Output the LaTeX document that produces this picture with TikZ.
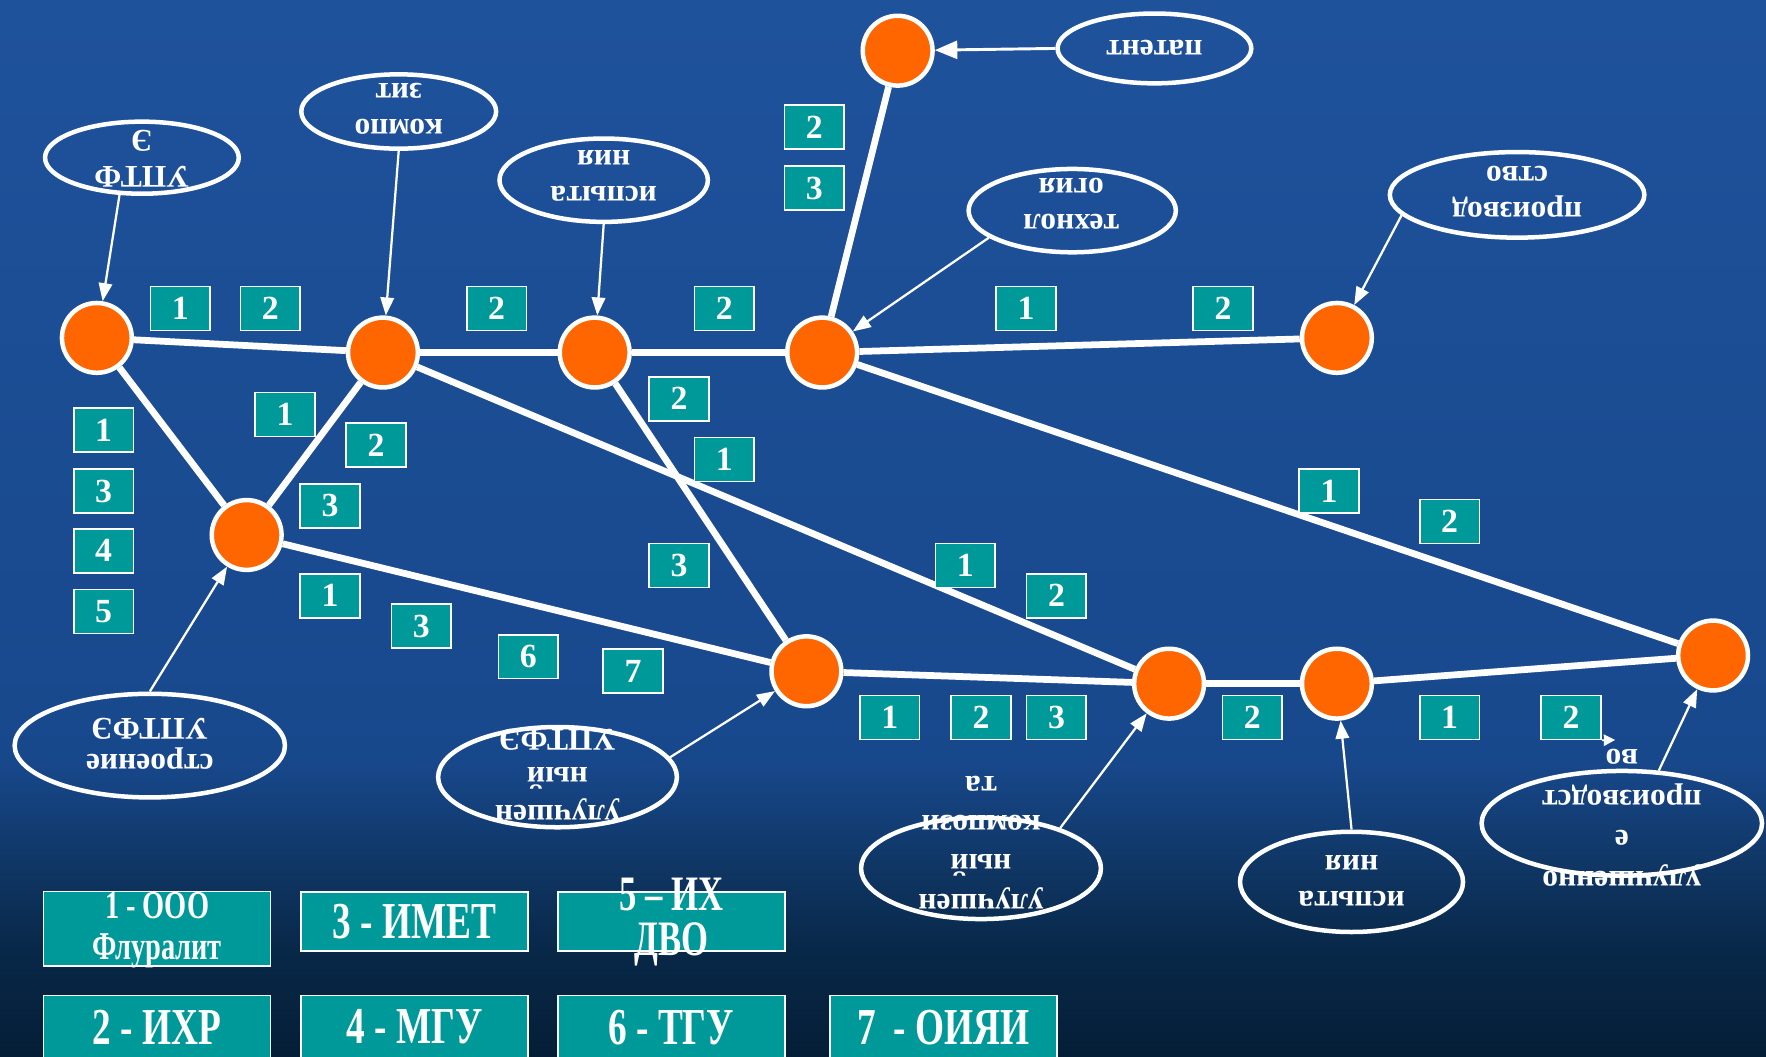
\documentclass[tikz,border=0pt]{standalone}
\usepackage{fontspec}
\setmainfont{Liberation Serif}
\newfontfamily\condA[FakeStretch=0.72]{Liberation Serif Bold}
\newfontfamily\condB[FakeStretch=0.70]{Liberation Serif Bold}
\usetikzlibrary{shapes.geometric,arrows.meta}
\definecolor{orng}{RGB}{255,102,0}
\definecolor{tealbox}{RGB}{0,153,153}
\definecolor{bgtop}{RGB}{30,82,155}
\definecolor{bgmain}{RGB}{24,72,140}
\definecolor{bgmid}{RGB}{15,54,100}
\definecolor{bgdark}{RGB}{8,40,72}
\definecolor{bgbot}{RGB}{5,30,55}
\pgfdeclareverticalshading{bgshade}{100bp}{color(0bp)=(bgbot); color(25bp)=(bgbot); color(30bp)=(bgdark); color(34bp)=(bgmid); color(39bp)=(bgmain); color(75bp)=(bgtop); color(100bp)=(bgtop)}
\begin{document}
\begin{tikzpicture}[x=0.5pt,y=-0.5pt,
  dot/.style={circle,fill=orng,draw=white,line width=2pt,minimum size=31pt,inner sep=0pt},
  edge/.style={white,line width=3pt},
  ell/.style={ellipse,draw=white,line width=2pt,inner sep=0pt},
  etext/.style={rotate=180,align=center,text=white,inner sep=0pt,font=\fontsize{14}{16}\selectfont\bfseries},
  numbox/.style={rectangle,fill=tealbox,draw=white,line width=0.75pt,minimum width=26.5pt,minimum height=19.5pt,inner sep=0pt,text=white,font=\fontsize{15}{18}\selectfont\bfseries},
  arr/.style={white,line width=1pt,-{Triangle[length=8pt,width=6pt]}},
  legbox/.style={rectangle,fill=tealbox,draw=white,line width=0.75pt,minimum width=100.75pt,minimum height=26.25pt,inner sep=0pt},
  legtext/.style={text=white,align=center,inner sep=0pt,font=\condA\fontsize{23}{26}\selectfont}
]
\clip (0,0) rectangle (1568,938);
\useasboundingbox (0,0) rectangle (1568,938);
\shade[shading=bgshade] (0,0) rectangle (1568,938);

% circles
\node[dot] (A) at (86,300) {};
\node[dot] (B) at (340,313) {};
\node[dot] (C) at (528,313) {};
\node[dot] (D) at (730,313) {};
\node[dot] (E) at (1187,300) {};
\node[dot] (F) at (797,45) {};
\node[dot] (G) at (219,475) {};
\node[dot] (H) at (716,596) {};
\node[dot] (I) at (1038,607) {};
\node[dot] (J) at (1187,607) {};
\node[dot] (K) at (1521,582) {};

% thick edges
\draw[edge] (A) -- (B);
\draw[edge] (B) -- (C);
\draw[edge] (C) -- (D);
\draw[edge] (D) -- (E);
\draw[edge] (A) -- (G);
\draw[edge] (G) -- (B);
\draw[edge] (G) -- (H);
\draw[edge] (B) -- (I);
\draw[edge] (C) -- (H);
\draw[edge] (D) -- (K);
\draw[edge] (H) -- (I);
\draw[edge] (I) -- (J);
\draw[edge] (J) -- (K);
\draw[edge] (D) -- (F);

% ellipses
\node[ell,minimum width=86pt,minimum height=32pt] (e1) at (126,140) {};
\node[ell,minimum width=86.5pt,minimum height=33pt] (e2) at (354,99) {};
\node[ell,minimum width=92.5pt,minimum height=37pt] (e3) at (536,160) {};
\node[ell,minimum width=92pt,minimum height=37pt] (e4) at (952,187) {};
\node[ell,minimum width=86pt,minimum height=31pt] (e5) at (1025,43) {};
\node[ell,minimum width=113pt,minimum height=38pt] (e6) at (1347,173) {};
\node[ell,minimum width=120pt,minimum height=46pt] (e7) at (133,662) {};
\node[ell,minimum width=106pt,minimum height=44.5pt] (e8) at (495,690) {};
\node[ell,minimum width=106.5pt,minimum height=45pt] (e9) at (871,771) {};
\node[ell,minimum width=99pt,minimum height=44.5pt] (e10) at (1200,783) {};
\node[ell,minimum width=124.5pt,minimum height=46.5pt] (e11) at (1440,731) {};

% ellipse texts (printed upside down)
\node[etext] (t1) at (126,141) {УПТФ\\Э};
\node[etext] (t2) at (354,97) {компо\\зит};
\node[etext] (t3) at (536,156) {испыта\\ния};
\node[etext] (t4) at (951,181) {технол\\огия};
\node[etext] (t5) at (1025,42) {патент};
\node[etext] (t6) at (1347,170) {производ\\ство};
\node[etext] (t7) at (133,660) {строение\\УПТФЭ};
\node[etext,font=\fontsize{14}{17}\selectfont\bfseries] (t8) at (495,688) {улучшен\\ный\\УПТФЭ};
\node[etext,font=\fontsize{14}{17.5}\selectfont\bfseries] (t9) at (871,748) {улучшен\\ный\\компози\\та};
\node[etext] (t10) at (1200,782) {испыта\\ния};
\node[etext,font=\fontsize{14}{18}\selectfont\bfseries] (t11) at (1440,726) {улучшенно\\е\\производст\\во};

% thin arrows
\draw[arr] (e1.239) -- (A);
\draw[arr] (e2.south) -- (B);
\draw[arr] (e3.south) -- (C);
\draw[arr] (e4.198) -- (D);
\draw[arr,line width=1.3pt,-{Triangle[length=10pt,width=8pt]}] (e5.west) -- (F);
\draw[arr] (e6.190) -- (E);
\draw[arr] (e7.north) -- (G);
\draw[arr] (e8.10) -- (H);
\draw[arr] (e9.27) -- (I);
\draw[arr] (e10.north) -- (J);
\draw[arr] (e11.55) -- (K);

% number boxes
\node[numbox] (n1) at (160,274) {1};
\node[numbox] (n2) at (240,274) {2};
\node[numbox] (n3) at (441,274) {2};
\node[numbox] (n4) at (643,274) {2};
\node[numbox] (n5) at (723,113) {2};
\node[numbox] (n6) at (723,167) {3};
\node[numbox] (n7) at (911,274) {1};
\node[numbox] (n8) at (1086,274) {2};
\node[numbox] (n9) at (92,382) {1};
\node[numbox] (n10) at (92,436) {3};
\node[numbox] (n11) at (92,489) {4};
\node[numbox] (n12) at (92,543) {5};
\node[numbox] (n13) at (253,368) {1};
\node[numbox] (n14) at (334,395) {2};
\node[numbox] (n15) at (293,449) {3};
\node[numbox] (n16) at (603,354) {2};
\node[numbox] (n17) at (643,408) {1};
\node[numbox] (n18) at (603,502) {3};
\node[numbox] (n19) at (1180,436) {1};
\node[numbox] (n20) at (1287,463) {2};
\node[numbox] (n21) at (857,502) {1};
\node[numbox] (n22) at (938,529) {2};
\node[numbox] (n23) at (293,529) {1};
\node[numbox] (n24) at (374,556) {3};
\node[numbox] (n25) at (469,583) {6};
\node[numbox] (n26) at (562,596) {7};
\node[numbox] (n27) at (790,637) {1};
\node[numbox] (n28) at (871,637) {2};
\node[numbox] (n29) at (938,637) {3};
\node[numbox] (n30) at (1112,637) {2};
\node[numbox] (n31) at (1287,637) {1};
\node[numbox] (n32) at (1395,637) {2};
\coordinate (n32tip) at (1434,657);
\draw[white,line width=0.75pt,-{Triangle[length=5pt,width=5pt]}] (n32.south east) -- (n32tip);

% legend
\node[legbox,minimum height=33pt] (L1) at (139.5,824.5) {};
\node[legtext,font=\condA\fontsize{17.5}{18}\selectfont] (L1t) at (139.5,826) {1 - ООО\\Флуралит};
\node[legbox] (L3) at (368,818) {};
\node[legtext] (L3t) at (368,818) {3 - ИМЕТ};
\node[legbox] (L5) at (596,818) {};
\node[legtext,font=\condB\fontsize{22}{20}\selectfont] (L5t) at (596,819) {5 – ИХ\\ДВО};
\node[legbox,minimum height=29pt] (L2) at (139.5,913) {};
\node[legtext] (L2t) at (139.5,912) {2 - ИХР};
\node[legbox,minimum height=29pt] (L4) at (368,913) {};
\node[legtext] (L4t) at (368,912) {4 - МГУ};
\node[legbox,minimum height=29pt] (L6) at (596,913) {};
\node[legtext] (L6t) at (596,912) {6 - ТГУ};
\node[legbox,minimum height=29pt] (L7) at (837.5,913) {};
\node[legtext] (L7t) at (837.5,912) {7 \,- ОИЯИ};
\end{tikzpicture}
\end{document}
